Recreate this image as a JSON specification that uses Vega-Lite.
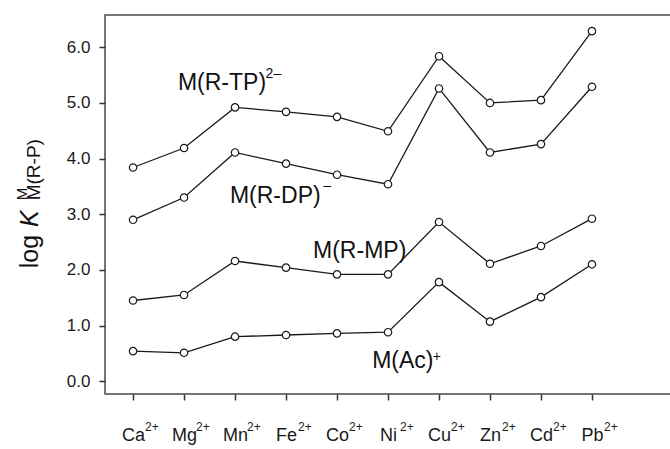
{
  "$schema": "https://vega.github.io/schema/vega-lite/v6.json",
  "width": 566,
  "height": 379,
  "autosize": "none",
  "padding": {"left": 105, "top": 15, "right": 0, "bottom": 55},
  "background": "white",
  "config": {
    "view": {"stroke": "#4a4a4a", "strokeWidth": 1.5},
    "font": "Liberation Sans",
    "axis": {"ticks": true, "tickColor": "#333", "tickWidth": 1.5, "tickOpacity": 1}
  },
  "datasets": {
    "series": [
      {"series": "TP", "ion": "Ca", "x": 0, "value": 3.84},
      {"series": "TP", "ion": "Mg", "x": 1, "value": 4.19},
      {"series": "TP", "ion": "Mn", "x": 2, "value": 4.92},
      {"series": "TP", "ion": "Fe", "x": 3, "value": 4.84},
      {"series": "TP", "ion": "Co", "x": 4, "value": 4.75},
      {"series": "TP", "ion": "Ni", "x": 5, "value": 4.49},
      {"series": "TP", "ion": "Cu", "x": 6, "value": 5.84},
      {"series": "TP", "ion": "Zn", "x": 7, "value": 5.00},
      {"series": "TP", "ion": "Cd", "x": 8, "value": 5.05},
      {"series": "TP", "ion": "Pb", "x": 9, "value": 6.29},
      {"series": "DP", "ion": "Ca", "x": 0, "value": 2.90},
      {"series": "DP", "ion": "Mg", "x": 1, "value": 3.30},
      {"series": "DP", "ion": "Mn", "x": 2, "value": 4.11},
      {"series": "DP", "ion": "Fe", "x": 3, "value": 3.91},
      {"series": "DP", "ion": "Co", "x": 4, "value": 3.71},
      {"series": "DP", "ion": "Ni", "x": 5, "value": 3.54},
      {"series": "DP", "ion": "Cu", "x": 6, "value": 5.26},
      {"series": "DP", "ion": "Zn", "x": 7, "value": 4.11},
      {"series": "DP", "ion": "Cd", "x": 8, "value": 4.26},
      {"series": "DP", "ion": "Pb", "x": 9, "value": 5.29},
      {"series": "MP", "ion": "Ca", "x": 0, "value": 1.45},
      {"series": "MP", "ion": "Mg", "x": 1, "value": 1.55},
      {"series": "MP", "ion": "Mn", "x": 2, "value": 2.16},
      {"series": "MP", "ion": "Fe", "x": 3, "value": 2.04},
      {"series": "MP", "ion": "Co", "x": 4, "value": 1.92},
      {"series": "MP", "ion": "Ni", "x": 5, "value": 1.92},
      {"series": "MP", "ion": "Cu", "x": 6, "value": 2.86},
      {"series": "MP", "ion": "Zn", "x": 7, "value": 2.11},
      {"series": "MP", "ion": "Cd", "x": 8, "value": 2.43},
      {"series": "MP", "ion": "Pb", "x": 9, "value": 2.92},
      {"series": "Ac", "ion": "Ca", "x": 0, "value": 0.54},
      {"series": "Ac", "ion": "Mg", "x": 1, "value": 0.51},
      {"series": "Ac", "ion": "Mn", "x": 2, "value": 0.80},
      {"series": "Ac", "ion": "Fe", "x": 3, "value": 0.83},
      {"series": "Ac", "ion": "Co", "x": 4, "value": 0.86},
      {"series": "Ac", "ion": "Ni", "x": 5, "value": 0.88},
      {"series": "Ac", "ion": "Cu", "x": 6, "value": 1.78},
      {"series": "Ac", "ion": "Zn", "x": 7, "value": 1.07},
      {"series": "Ac", "ion": "Cd", "x": 8, "value": 1.51},
      {"series": "Ac", "ion": "Pb", "x": 9, "value": 2.10}
    ],
    "ions": [
      {"x": 0, "charge": "2+"}, {"x": 1, "charge": "2+"}, {"x": 2, "charge": "2+"},
      {"x": 3, "charge": "2+"}, {"x": 4, "charge": "2+"}, {"x": 5, "charge": "2+"},
      {"x": 6, "charge": "2+"}, {"x": 7, "charge": "2+"}, {"x": 8, "charge": "2+"},
      {"x": 9, "charge": "2+"}
    ],
    "labels": [
      {"label": "M(R-TP)", "x": 0.88, "value": 5.23},
      {"label": "M(R-DP)", "x": 1.90, "value": 3.20},
      {"label": "M(R-MP)", "x": 3.53, "value": 2.21},
      {"label": "M(Ac)", "x": 4.69, "value": 0.23}
    ],
    "sups": [
      {"label": "2–", "x": 2.6, "value": 5.44},
      {"label": "–", "x": 3.73, "value": 3.43},
      {"label": "+", "x": 5.88, "value": 0.36}
    ],
    "titleMain": [{"label": "log", "x": -1.86, "value": 2.03}],
    "titleItalic": [{"label": "K", "x": -1.86, "value": 2.77}],
    "titleSup": [{"label": "M", "x": -2.08, "value": 3.25}],
    "titleSub": [{"label": "M(R-P)", "x": -1.82, "value": 3.25}]
  },
  "layer": [
    {
      "data": {"name": "series"},
      "mark": {"type": "line", "color": "#1a1a1a", "strokeWidth": 1.3},
      "encoding": {
        "x": {
          "field": "x", "type": "quantitative",
          "scale": {"domain": [-0.55, 10.55], "nice": false, "zero": false},
          "axis": {
            "values": [0, 1, 2, 3, 4, 5, 6, 7, 8, 9],
            "labelExpr": "['Ca','Mg','Mn','Fe','Co','Ni','Cu','Zn','Cd','Pb'][datum.value]",
            "title": null, "domain": false, "grid": false, "ticks": true, "labels": true,
            "tickSize": 6, "tickColor": "#333", "tickWidth": 1.5,
            "labelFontSize": 18, "labelColor": "#1a1a1a", "labelBaseline": "alphabetic",
            "labelPadding": 40, "labelOverlap": false, "labelFont": "Liberation Sans"
          }
        },
        "y": {
          "field": "value", "type": "quantitative",
          "scale": {"domain": [-0.23, 6.58], "nice": false, "zero": false},
          "axis": {
            "values": [0, 0.5, 1, 1.5, 2, 2.5, 3, 3.5, 4, 4.5, 5, 5.5, 6, 6.5],
            "labelExpr": "datum.value % 1 == 0 ? format(datum.value, '.1f') : ''",
            "domain": false, "grid": false, "ticks": true, "labels": true,
            "tickSize": 6, "tickColor": "#333", "tickWidth": 1.5,
            "labelFontSize": 17, "labelPadding": 9, "labelColor": "#1a1a1a", "labelOverlap": false,
            "labelFont": "Liberation Sans",
            "title": null
          }
        },
        "detail": {"field": "series"}
      }
    },
    {
      "data": {"name": "series"},
      "mark": {"type": "point", "shape": "circle", "filled": true, "fill": "white", "stroke": "#1a1a1a", "strokeWidth": 1.2, "size": 55, "opacity": 1},
      "encoding": {
        "x": {"field": "x", "type": "quantitative"},
        "y": {"field": "value", "type": "quantitative"}
      }
    },
    {
      "data": {"name": "ions"},
      "mark": {"type": "text", "align": "left", "baseline": "alphabetic", "fontSize": 12, "dx": 12, "color": "#1a1a1a", "font": "Liberation Sans"},
      "encoding": {
        "x": {"field": "x", "type": "quantitative"},
        "y": {"datum": -0.9},
        "text": {"field": "charge"}
      }
    },
    {
      "data": {"name": "labels"},
      "mark": {"type": "text", "align": "left", "baseline": "alphabetic", "fontSize": 23, "color": "#111", "font": "Liberation Sans"},
      "encoding": {
        "x": {"field": "x", "type": "quantitative"},
        "y": {"field": "value", "type": "quantitative"},
        "text": {"field": "label"}
      }
    },
    {
      "data": {"name": "sups"},
      "mark": {"type": "text", "align": "left", "baseline": "alphabetic", "fontSize": 14, "color": "#111", "font": "Liberation Sans"},
      "encoding": {
        "x": {"field": "x", "type": "quantitative"},
        "y": {"field": "value", "type": "quantitative"},
        "text": {"field": "label"}
      }
    },
    {
      "data": {"name": "titleMain"},
      "mark": {"type": "text", "align": "left", "baseline": "alphabetic", "angle": 270, "fontSize": 25, "color": "#111", "font": "Liberation Sans"},
      "encoding": {
        "x": {"field": "x", "type": "quantitative"},
        "y": {"field": "value", "type": "quantitative"},
        "text": {"field": "label"}
      }
    },
    {
      "data": {"name": "titleItalic"},
      "mark": {"type": "text", "align": "left", "baseline": "alphabetic", "angle": 270, "fontSize": 25, "fontStyle": "italic", "color": "#111", "font": "Liberation Sans"},
      "encoding": {
        "x": {"field": "x", "type": "quantitative"},
        "y": {"field": "value", "type": "quantitative"},
        "text": {"field": "label"}
      }
    },
    {
      "data": {"name": "titleSup"},
      "mark": {"type": "text", "align": "left", "baseline": "alphabetic", "angle": 270, "fontSize": 15, "color": "#111", "font": "Liberation Sans"},
      "encoding": {
        "x": {"field": "x", "type": "quantitative"},
        "y": {"field": "value", "type": "quantitative"},
        "text": {"field": "label"}
      }
    },
    {
      "data": {"name": "titleSub"},
      "mark": {"type": "text", "align": "left", "baseline": "alphabetic", "angle": 270, "fontSize": 19, "color": "#111", "font": "Liberation Sans"},
      "encoding": {
        "x": {"field": "x", "type": "quantitative"},
        "y": {"field": "value", "type": "quantitative"},
        "text": {"field": "label"}
      }
    }
  ]
}
